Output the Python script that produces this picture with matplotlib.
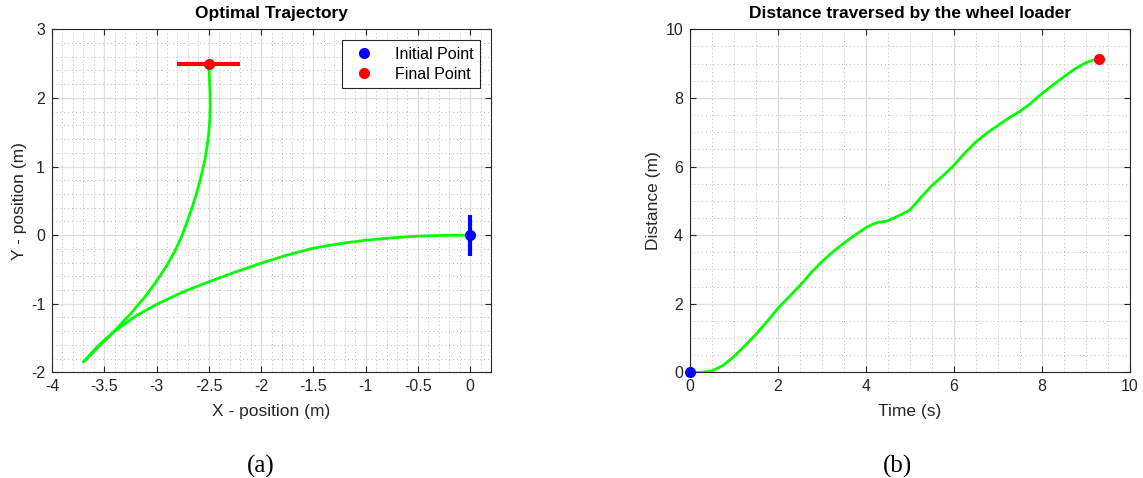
import numpy as np
import matplotlib.pyplot as plt
from matplotlib.ticker import MultipleLocator, FormatStrFormatter

plt.rcParams['font.family'] = ['Liberation Sans', 'DejaVu Sans']
plt.rcParams['axes.unicode_minus'] = False

# Trajectory (a): from the initial point out to the cusp, then up to the final point
traj_x = [0.0, -0.25, -0.5, -0.75, -1.0, -1.25, -1.5, -1.75, -2.0, -2.25, -2.5,
          -2.75, -3.0, -3.2, -3.4, -3.55, -3.7,
          -3.55, -3.4, -3.25, -3.1, -3.0, -2.9, -2.82, -2.76, -2.71, -2.665, -2.625,
          -2.59, -2.56, -2.535, -2.515, -2.5, -2.49, -2.487, -2.489, -2.494, -2.5]
traj_y = [0.0, -0.004, -0.015, -0.04, -0.075, -0.125, -0.19, -0.29, -0.41, -0.54, -0.68,
          -0.83, -1.01, -1.18, -1.40, -1.60, -1.85,
          -1.62, -1.39, -1.15, -0.88, -0.67, -0.44, -0.22, -0.02, 0.18, 0.38, 0.57,
          0.76, 0.94, 1.12, 1.31, 1.5, 1.7, 1.9, 2.1, 2.3, 2.5]

start_pt = (0.0, 0.0)
final_pt = (-2.5, 2.5)
bar_half = 0.3

# Distance (b)
time_s = [0, 0.25, 0.5, 0.75, 1.0, 1.25, 1.5, 1.75, 2.0, 2.25, 2.5, 2.75, 3.0, 3.25,
          3.5, 3.75, 4.0, 4.15, 4.3, 4.45, 4.6, 4.8, 5.0, 5.25, 5.5, 5.75, 6.0, 6.25,
          6.5, 6.75, 7.0, 7.25, 7.5, 7.75, 8.0, 8.25, 8.5, 8.75, 9.0, 9.15, 9.29]
dist_m = [0, 0.0, 0.04, 0.2, 0.46, 0.78, 1.11, 1.48, 1.87, 2.2, 2.53, 2.9, 3.23, 3.52,
          3.77, 4.0, 4.22, 4.32, 4.38, 4.40, 4.48, 4.6, 4.74, 5.1, 5.45, 5.73, 6.04, 6.4,
          6.72, 6.98, 7.2, 7.42, 7.61, 7.85, 8.13, 8.38, 8.62, 8.85, 9.03, 9.1, 9.13]

green = '#00ff00'
dark = '#262626'


def matlab_style(ax, xmaj, xmin, ymaj, ymin):
    ax.xaxis.set_major_locator(MultipleLocator(xmaj))
    ax.xaxis.set_minor_locator(MultipleLocator(xmin))
    ax.yaxis.set_major_locator(MultipleLocator(ymaj))
    ax.yaxis.set_minor_locator(MultipleLocator(ymin))
    ax.xaxis.set_major_formatter(FormatStrFormatter('%g'))
    ax.yaxis.set_major_formatter(FormatStrFormatter('%g'))
    ax.grid(which='major', color='#dedede', linewidth=0.9)
    ax.grid(which='minor', color='#b8b8b8', linestyle=(0, (1, 3)), linewidth=0.7)
    ax.set_axisbelow(True)
    ax.tick_params(which='major', direction='in', length=4, width=0.8, color=dark,
                   top=True, right=True, labelsize=11.5, labelcolor=dark, pad=5)
    ax.tick_params(which='minor', length=0)
    for s in ax.spines.values():
        s.set_color(dark)
        s.set_linewidth(0.8)


fig = plt.figure(figsize=(11.43, 4.78), dpi=100)
ax1 = fig.add_axes([0.0455, 0.2211, 0.3841, 0.7176])
ax2 = fig.add_axes([0.6037, 0.2211, 0.3850, 0.7176])

# (a)
ax1.plot(traj_x, traj_y, color=green, lw=2, zorder=3)
ax1.plot([start_pt[0], start_pt[0]], [start_pt[1] - bar_half, start_pt[1] + bar_half],
         color='#0000ff', lw=3, solid_capstyle='butt', zorder=4)
ax1.plot([final_pt[0] - bar_half, final_pt[0] + bar_half], [final_pt[1], final_pt[1]],
         color='#ff0000', lw=3, solid_capstyle='butt', zorder=4)
ax1.plot(*start_pt, 'o', color='#0000ff', ms=7, label='Initial Point', zorder=5)
ax1.plot(*final_pt, 'o', color='#ff0000', ms=7, label='Final Point', zorder=5)
ax1.set_xlim(-4, 0.2)
ax1.set_ylim(-2, 3)
matlab_style(ax1, 0.5, 0.1, 1, 0.2)
ax1.set_title('Optimal Trajectory', fontsize=12.5, fontweight='bold', pad=8)
ax1.set_xlabel('X - position (m)', fontsize=12.5, color=dark, labelpad=7)
ax1.set_ylabel('Y - position (m)', fontsize=12.5, color=dark, labelpad=3)
leg = ax1.legend(loc='upper right', fontsize=11.5, fancybox=False, framealpha=1,
                 edgecolor=dark, borderaxespad=0.7, handletextpad=0.9,
                 borderpad=0.4, labelspacing=0.3)
leg.get_frame().set_linewidth(0.8)

# (b)
ax2.plot(time_s, dist_m, color=green, lw=2, zorder=3)
ax2.plot(time_s[0], dist_m[0], 'o', color='#0000ff', ms=7, clip_on=False, zorder=5)
ax2.plot(time_s[-1], dist_m[-1], 'o', color='#ff0000', ms=7, clip_on=False, zorder=5)
ax2.set_xlim(0, 10)
ax2.set_ylim(0, 10)
matlab_style(ax2, 2, 0.5, 2, 0.5)
ax2.set_title('Distance traversed by the wheel loader', fontsize=12.5, fontweight='bold', pad=8)
ax2.set_xlabel('Time (s)', fontsize=12.5, color=dark, labelpad=7)
ax2.set_ylabel('Distance (m)', fontsize=12.5, color=dark, labelpad=3)

fig.text(261 / 1143, 1 - 466 / 478, '(a)', family='Liberation Serif', fontsize=18,
         ha='center', va='center')
fig.text(897 / 1143, 1 - 466 / 478, '(b)', family='Liberation Serif', fontsize=18,
         ha='center', va='center')

fig.savefig('out.png', dpi=100)
